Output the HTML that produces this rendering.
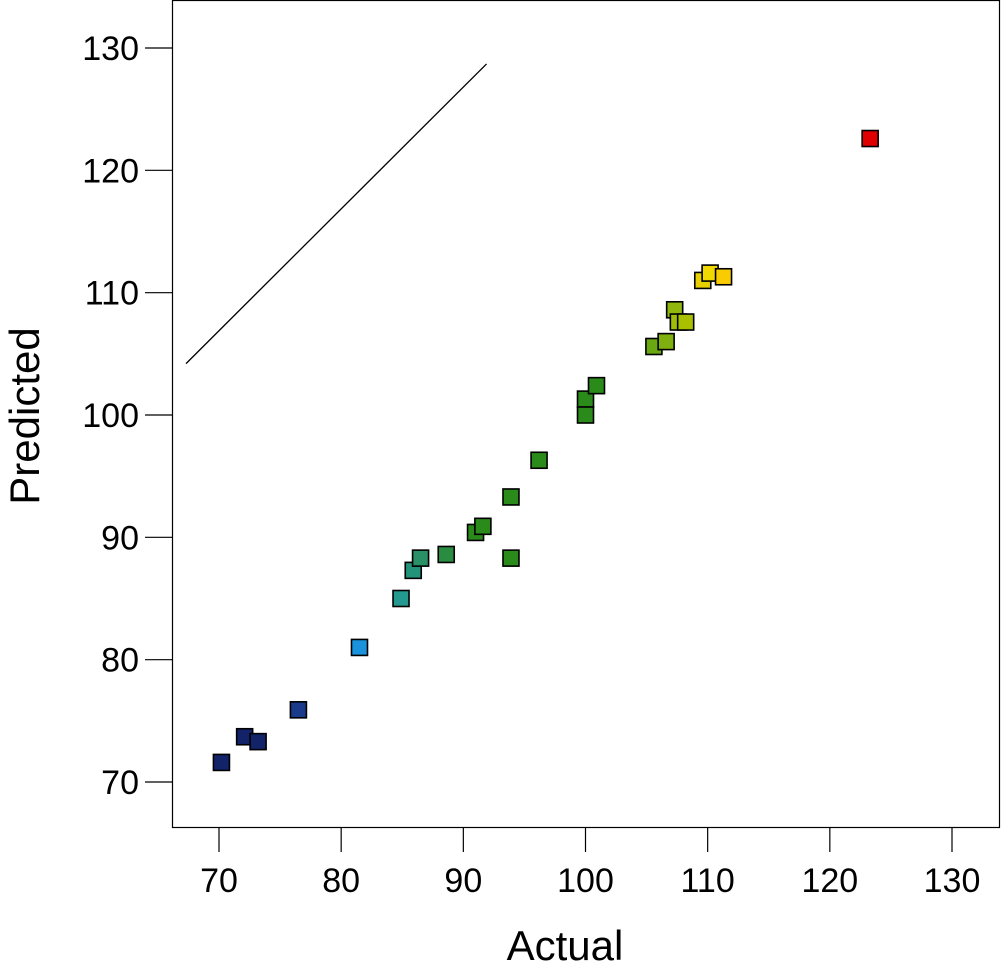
<!DOCTYPE html>
<html><head><meta charset="utf-8">
<style>
html,body{margin:0;padding:0;background:#fff;}
svg{display:block;font-family:"Liberation Sans",Arial,sans-serif;}
</style></head>
<body>
<svg id="chart" width="1001" height="973" viewBox="0 0 1001 973">
<rect x="172.5" y="0.5" width="827" height="827" fill="#fff" stroke="#000" stroke-width="1.2"/>
<g id="axes"></g>
<g id="marks"></g>
<text x="565" y="960" font-size="42" text-anchor="middle">Actual</text>
<text transform="translate(39,416) rotate(-90)" font-size="42" text-anchor="middle">Predicted</text>
</svg>
<script>
const xTicks = [70,80,90,100,110,120,130];
const yTicks = [70,80,90,100,110,120,130];
const actual = [70.2,72.1,73.2,76.5,81.5,84.9,85.9,86.5,88.6,91.0,91.6,93.9,93.9,96.2,100.0,100.0,100.9,105.6,106.6,107.3,107.6,108.2,109.6,110.2,111.3,123.3];
const predicted = [71.6,73.7,73.3,75.9,81.0,85.0,87.3,88.3,88.6,90.4,90.9,93.3,88.3,96.3,101.3,100.0,102.4,105.6,106.0,108.6,107.6,107.6,111.0,111.6,111.3,122.6];
const colors = ["#13236a","#13236a","#13236a","#1a3a8a","#1a93dc","#24998f","#23937a","#2a9068","#2a8c40","#2a8a1a","#2a8a1a","#2a8a1a","#2a8a1a","#2a8a1a","#2a8a1a","#2a8a1a","#2a8a1a","#6aa812","#80b010","#90b80c","#a0bc08","#a8c000","#e8d000","#f0d800","#f8cc00","#e00000"];
const refLine = [[67.3,104.2],[91.9,128.7]];

const NS="http://www.w3.org/2000/svg";
function xs(v){return 219 + (v-70)*733/60;}
function ys(v){return 782 - (v-70)*734/60;}
function mk(tag,attrs,parent){const e=document.createElementNS(NS,tag);for(const k in attrs)e.setAttribute(k,attrs[k]);parent.appendChild(e);return e;}
const axes=document.getElementById('axes'), marks=document.getElementById('marks');
xTicks.forEach(t=>{
  const l=mk('line',{x1:xs(t),x2:xs(t),y1:827,y2:852,stroke:'#000','stroke-width':1.2},axes);
  
  
  const tx=mk('text',{x:xs(t),y:892,'font-size':34,'text-anchor':'middle'},axes);
  tx.textContent=t;
  
  
});
yTicks.forEach(t=>{
  const l=mk('line',{x1:145,x2:172,y1:ys(t),y2:ys(t),stroke:'#000','stroke-width':1.2},axes);
  
  
  const tx=mk('text',{x:139,y:ys(t)+12,'font-size':34,'text-anchor':'end'},axes);
  tx.textContent=t;
  
  
});
const rl=mk('line',{x1:xs(refLine[0][0]),y1:ys(refLine[0][1]),x2:xs(refLine[1][0]),y2:ys(refLine[1][1]),stroke:'#000','stroke-width':1.3},marks);


actual.forEach((a,i)=>{
  const r=mk('rect',{x:xs(a)-8,y:ys(predicted[i])-8,width:16,height:16,fill:colors[i],stroke:'#000','stroke-width':1.6},marks);
  
  
});
</script>
</body></html>
